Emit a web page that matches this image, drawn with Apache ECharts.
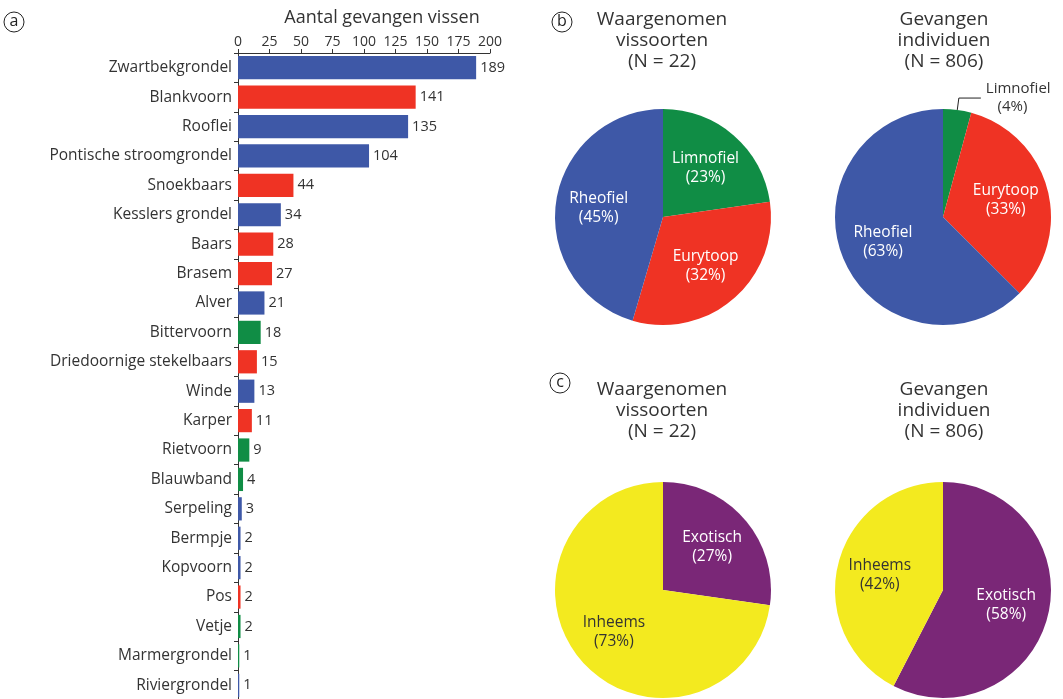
<!DOCTYPE html>
<html>
<head>
<meta charset="utf-8">
<script src="https://cdn.jsdelivr.net/npm/echarts@6/dist/echarts.min.js"></script>
<style>
html,body{margin:0;padding:0;background:#fff;}
#chart{width:1063px;height:699px;}
</style>
</head>
<body>
<div id="chart"></div>
<script>
// ---- data ----
const categories = ['Zwartbekgrondel','Blankvoorn','Rooflei','Pontische stroomgrondel','Snoekbaars','Kesslers grondel','Baars','Brasem','Alver','Bittervoorn','Driedoornige stekelbaars','Winde','Karper','Rietvoorn','Blauwband','Serpeling','Bermpje','Kopvoorn','Pos','Vetje','Marmergrondel','Riviergrondel'];
const counts = [189,141,135,104,44,34,28,27,21,18,15,13,11,9,4,3,2,2,2,2,1,1];
const habitat = ['Rheofiel','Eurytoop','Rheofiel','Rheofiel','Eurytoop','Rheofiel','Eurytoop','Eurytoop','Rheofiel','Limnofiel','Eurytoop','Rheofiel','Eurytoop','Limnofiel','Limnofiel','Rheofiel','Rheofiel','Rheofiel','Eurytoop','Limnofiel','Limnofiel','Rheofiel'];
const xTicks = [0,25,50,75,100,125,150,175,200];

const habitatNames = ['Limnofiel','Eurytoop','Rheofiel'];
const habitatSpecies = [5,7,10];
const habitatIndividuals = [34,268,504];
const originNames = ['Exotisch','Inheems'];
const originSpecies = [6,16];
const originIndividuals = [464,342];

const colors = {Rheofiel:'#3E58A7', Eurytoop:'#EF3324', Limnofiel:'#108D45', Exotisch:'#7A2777', Inheems:'#F3EA1F'};
const FONT = 'Open Sans';

const chart = echarts.init(document.getElementById('chart'));

function pieData(names, values) {
  return names.map((n, i) => ({name: n, value: values[i], itemStyle: {color: colors[n]}}));
}
function pieSeries(center, names, values, labelColors, special) {
  const base = {
    type: 'pie', center: center, radius: [0, 108], startAngle: 90, clockwise: true,
    label: {show: false}, labelLine: {show: false}, silent: true,
    itemStyle: {borderWidth: 0},
    data: pieData(names, values)
  };
  const lab = {
    type: 'pie', center: center, radius: [16, 108], startAngle: 90, clockwise: true,
    percentPrecision: 0, avoidLabelOverlap: false, silent: true,
    itemStyle: {color: 'rgba(0,0,0,0)', borderWidth: 0},
    label: {show: true, position: 'inside', formatter: '{b}\n({d}%)', fontFamily: FONT, fontSize: 15.5, lineHeight: 19},
    labelLine: {show: false},
    data: names.map((n, i) => {
      const d = {name: n, value: values[i], itemStyle: {color: 'rgba(0,0,0,0)'}, label: {color: labelColors[i]}};
      if (special && special[n]) Object.assign(d, special[n]);
      return d;
    })
  };
  return [base, lab];
}

const limnoOutside = {
  Limnofiel: {
    label: {position: 'outside', color: '#333', fontFamily: FONT, fontSize: 15, lineHeight: 18, formatter: '{b}\n   ({d}%)'},
    labelLine: {show: true, length: 12, length2: 22, smooth: false, lineStyle: {color: '#222', width: 1}}
  }
};

const graphic = [];
[['a',14,22],['b',562,22],['c',560,383]].forEach(([t,x,y]) => {
  graphic.push({type:'circle', shape:{cx:x, cy:y, r:10}, style:{fill:'none', stroke:'#222', lineWidth:1}});
  graphic.push({type:'text', x:x, y:y-1, style:{text:t, align:'center', verticalAlign:'middle', fontSize:16, fontFamily:FONT, fill:'#222'}});
});
[['Waargenomen\nvissoorten\n(N = 22)',662,9],['Gevangen\nindividuen\n(N = 806)',944,9],
 ['Waargenomen\nvissoorten\n(N = 22)',662,379],['Gevangen\nindividuen\n(N = 806)',944,379]].forEach(([t,x,y]) => {
  graphic.push({type:'text', x:x, y:y, style:{text:t, align:'center', verticalAlign:'top', fontSize:19, lineHeight:21, fontFamily:FONT, fill:'#333'}});
});

const option = {
  animation: false,
  backgroundColor: '#fff',
  textStyle: {fontFamily: FONT},
  graphic: graphic,
  grid: {left: 238, top: 53, width: 252, height: 647, containLabel: false, outerBoundsMode: 'none'},
  xAxis: {
    type: 'value', position: 'top', min: xTicks[0], max: xTicks[xTicks.length-1], interval: xTicks[1]-xTicks[0],
    name: 'Aantal gevangen vissen', nameLocation: 'middle', nameGap: 26,
    nameTextStyle: {fontSize: 18, color: '#333', fontFamily: FONT, padding: [0, 0, 0, 36]},
    axisLine: {show: true, lineStyle: {color: '#333', width: 1}},
    axisTick: {show: true, length: 4, lineStyle: {color: '#333'}},
    axisLabel: {fontSize: 14, color: '#333', margin: 4, fontFamily: FONT},
    splitLine: {show: false}
  },
  yAxis: {
    type: 'category', inverse: true, data: categories,
    axisLine: {show: true, lineStyle: {color: '#333', width: 1}},
    axisTick: {show: true, length: 4, lineStyle: {color: '#333'}},
    axisLabel: {fontSize: 15.5, color: '#333', margin: 6, fontFamily: FONT},
    splitLine: {show: false}
  },
  series: [
    {
      type: 'bar', barWidth: '79%',
      data: counts.map((v, i) => ({value: v, itemStyle: {color: colors[habitat[i]]}})),
      label: {show: true, position: 'right', distance: 4, fontSize: 14.5, color: '#333', fontFamily: FONT}
    },
    ...pieSeries([663, 217], habitatNames, habitatSpecies, ['#fff','#fff','#fff']),
    ...pieSeries([943, 217], habitatNames, habitatIndividuals, ['#333','#fff','#fff'], limnoOutside),
    ...pieSeries([663, 590], originNames, originSpecies, ['#fff','#333']),
    ...pieSeries([943, 590], originNames, originIndividuals, ['#fff','#333'])
  ]
};
chart.setOption(option);
</script>
</body>
</html>
